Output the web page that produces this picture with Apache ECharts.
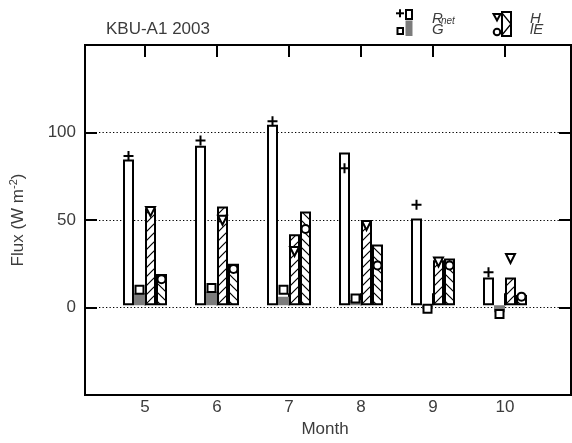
<!DOCTYPE html>
<html>
<head>
<meta charset="utf-8">
<script src="https://cdn.jsdelivr.net/npm/echarts@6/dist/echarts.min.js"></script>
<style>
  html, body { margin: 0; padding: 0; background: #fff; }
  #main { width: 572px; height: 443px; }
</style>
</head>
<body>
<div id="main"></div>
<script>
// data
var months = ['5', '6', '7', '8', '9', '10'];
var rnetBar = [84, 92, 104, 88, 50, 16];
var rnetPt = [86, 95, 106, 79, 58, 19];
var gBar = [7, 8, 5, 3, -2, -4];
var gPt = [9, 10, 9, 4, -2, -5];
var hBar = [56, 57, 41, 49, 26, 16];
var hPt = [54, 49, 31, 46, 25, 27];
var leBar = [18, 24, 54, 35, 27, 6];
var lePt = [15, 21, 44, 23, 23, 5];

var FONT = 'Liberation Sans';
var TXT = '#3c3c3c';
var GRAY = '#7c7c7c';

// hatch fill, dir 1 = "/", dir -1 = "\"
function hatch(dir) {
    var s = 9;
    var c = document.createElement('canvas');
    c.width = s; c.height = s;
    var ctx = c.getContext('2d');
    ctx.fillStyle = '#fff';
    ctx.fillRect(0, 0, s, s);
    ctx.strokeStyle = '#000';
    ctx.lineWidth = 1.2;
    ctx.beginPath();
    if (dir > 0) {
        ctx.moveTo(-1, s + 1); ctx.lineTo(s + 1, -1);
        ctx.moveTo(-2, 2); ctx.lineTo(2, -2);
        ctx.moveTo(s - 2, s + 2); ctx.lineTo(s + 2, s - 2);
    } else {
        ctx.moveTo(-1, -1); ctx.lineTo(s + 1, s + 1);
        ctx.moveTo(s - 2, -2); ctx.lineTo(s + 2, 2);
        ctx.moveTo(-2, s - 2); ctx.lineTo(2, s + 2);
    }
    ctx.stroke();
    return c;
}

var plusPath = 'path://M4,0h2v4h4v2h-4v4h-2v-4h-4v-2h4z';

function barSeries(name, bars, pts, color, borderColor, sym, symSize, symRotate) {
    var markStyle = sym === plusPath
        ? { color: '#000', borderWidth: 0 }
        : { color: '#fff', borderColor: '#000', borderWidth: 2 };
    return {
        name: name,
        type: 'bar',
        xAxisIndex: 1,
        yAxisIndex: 2,
        barWidth: 11,
        barGap: '0%',
        data: bars,
        itemStyle: {
            color: color,
            borderColor: borderColor,
            borderWidth: 2
        },
        markPoint: {
            symbol: sym,
            symbolSize: symSize,
            symbolRotate: symRotate || 0,
            itemStyle: markStyle,
            label: { show: false },
            data: pts.map(function (v, i) {
                return { coord: [months[i], v] };
            })
        }
    };
}

var chart = echarts.init(document.getElementById('main'));

var option = {
    animation: false,
    textStyle: { fontFamily: FONT },
    grid: [
        // outer frame
        { left: 81, top: 45, width: 490, height: 350, show: true, borderColor: '#000', borderWidth: 2, backgroundColor: 'transparent' },
        // bars, one 72px band per month
        { left: 109, top: 45, width: 432, height: 350 }
    ],
    xAxis: [
        { gridIndex: 0, type: 'value', min: 0, max: 1, show: false },
        {
            gridIndex: 1,
            type: 'category',
            data: months,
            position: 'bottom',
            name: 'Month',
            nameLocation: 'middle',
            nameGap: 28,
            nameTextStyle: { fontSize: 17, color: TXT, fontFamily: FONT },
            axisLine: { show: false },
            axisTick: { show: true, inside: true, length: 12, alignWithLabel: true, interval: 0, lineStyle: { color: '#000', width: 2 } },
            axisLabel: { margin: 7, fontSize: 17, color: TXT, fontFamily: FONT },
            splitLine: { show: false }
        },
        {
            gridIndex: 1,
            type: 'category',
            data: months,
            position: 'top',
            axisLine: { show: false },
            axisTick: { show: true, inside: true, length: 12, alignWithLabel: true, interval: 0, lineStyle: { color: '#000', width: 2 } },
            axisLabel: { show: false },
            splitLine: { show: false }
        }
    ],
    yAxis: [
        {
            gridIndex: 0,
            type: 'value',
            position: 'left',
            min: -50,
            max: 150,
            interval: 50,
            name: 'Flux (W m{sup|-2})',
            nameLocation: 'middle',
            nameGap: 57,
            nameRotate: 90,
            nameTextStyle: {
                fontSize: 17,
                color: TXT,
                fontFamily: FONT,
                rich: {
                    sup: { fontSize: 11, color: TXT, fontFamily: FONT, verticalAlign: 'top', padding: [0, 0, 9, 0] }
                }
            },
            axisLine: { show: false },
            axisTick: { show: true, inside: true, length: 12, lineStyle: { color: '#000', width: 2 } },
            axisLabel: { margin: 9, fontSize: 17, color: TXT, fontFamily: FONT, showMinLabel: false, showMaxLabel: false },
            splitLine: { show: true, lineStyle: { color: '#000', width: 1, type: [1.3, 2.2] } }
        },
        {
            gridIndex: 0,
            type: 'value',
            position: 'right',
            min: -50,
            max: 150,
            interval: 50,
            axisLine: { show: false },
            axisTick: { show: true, inside: true, length: 12, lineStyle: { color: '#000', width: 2 } },
            axisLabel: { show: false },
            splitLine: { show: false }
        },
        { gridIndex: 1, type: 'value', min: -50, max: 150, show: false }
    ],
    series: [
        barSeries('Rnet', rnetBar, rnetPt, '#fff', '#000', plusPath, 10),
        barSeries('G', gBar, gPt, GRAY, GRAY, 'rect', 8),
        barSeries('H', hBar, hPt, { image: hatch(1), repeat: 'repeat' }, '#000', 'triangle', 9, 180),
        barSeries('lE', leBar, lePt, { image: hatch(-1), repeat: 'repeat' }, '#000', 'circle', 8)
    ],
    graphic: [
        { type: 'text', left: 106, top: 21, style: { text: 'KBU-A1 2003', fontSize: 17, fontFamily: FONT, fill: TXT } },
        // legend: Rnet / G
        { type: 'rect', shape: { x: 396, y: 12.3, width: 8, height: 2 }, style: { fill: '#000' } },
        { type: 'rect', shape: { x: 399, y: 9.3, width: 2, height: 8 }, style: { fill: '#000' } },
        { type: 'rect', shape: { x: 406, y: 10, width: 6, height: 9 }, style: { fill: '#fff', stroke: '#000', lineWidth: 2 } },
        { type: 'rect', shape: { x: 397.5, y: 28, width: 5.5, height: 6 }, style: { fill: '#fff', stroke: '#000', lineWidth: 2 } },
        { type: 'rect', shape: { x: 405.5, y: 20.5, width: 7, height: 15.5 }, style: { fill: GRAY } },
        { type: 'text', left: 432, top: 11, style: { text: 'R', fontSize: 15, fontStyle: 'italic', fontFamily: FONT, fill: TXT } },
        { type: 'text', left: 441, top: 16, style: { text: 'net', fontSize: 10, fontStyle: 'italic', fontFamily: FONT, fill: TXT } },
        { type: 'text', left: 432, top: 22, style: { text: 'G', fontSize: 15, fontStyle: 'italic', fontFamily: FONT, fill: TXT } },
        // legend: H / lE
        { type: 'polygon', shape: { points: [[493.5, 14], [500.5, 14], [497, 20.5]] }, style: { fill: '#fff', stroke: '#000', lineWidth: 2 } },
        { type: 'circle', shape: { cx: 497, cy: 32, r: 3.3 }, style: { fill: '#fff', stroke: '#000', lineWidth: 2 } },
        { type: 'rect', shape: { x: 502, y: 12, width: 9, height: 24 }, style: { fill: '#fff', stroke: '#000', lineWidth: 2 } },
        { type: 'polyline', shape: { points: [[502, 13], [511, 24], [502, 35]] }, style: { stroke: '#000', lineWidth: 1.3, fill: null } },
        { type: 'text', left: 530, top: 11, style: { text: 'H', fontSize: 15, fontStyle: 'italic', fontFamily: FONT, fill: TXT } },
        { type: 'text', left: 530, top: 22, style: { text: 'lE', fontSize: 15, fontStyle: 'italic', fontFamily: FONT, fill: TXT } }
    ]
};

chart.setOption(option);
</script>
</body>
</html>
